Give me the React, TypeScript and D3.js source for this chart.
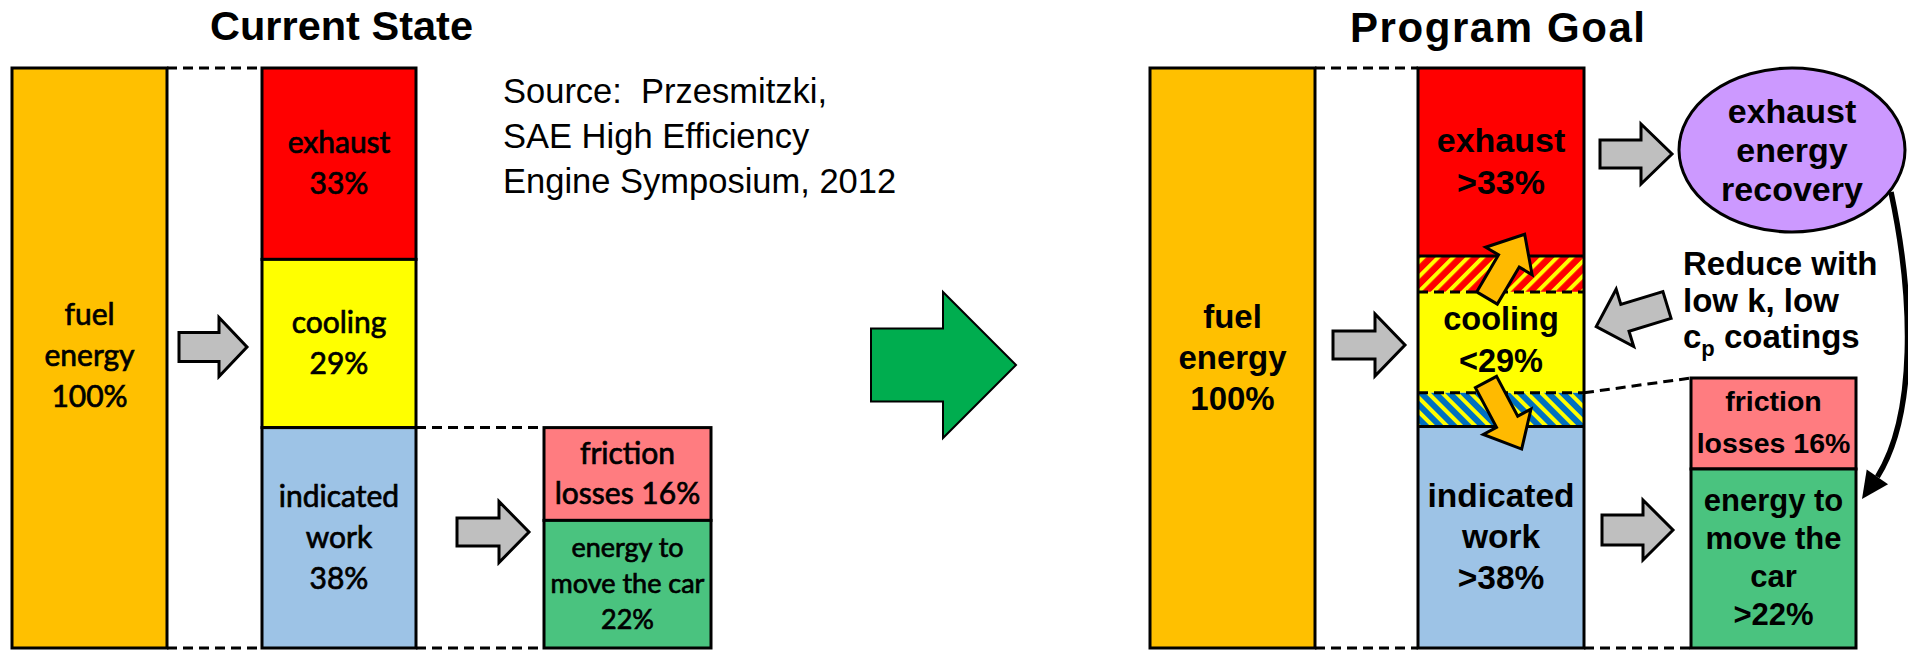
import React from "react";
import * as d3 from "d3";

const W = 1908;
const H = 653;

// ---------- data ----------
const stageTitles = ["Current State", "Program Goal"];
const sourceLines = ["Source:  Przesmitzki,", "SAE High Efficiency", "Engine Symposium, 2012"];

const fuelLabel = ["fuel", "energy", "100%"];
const fuelValue = 100;

const lossKeys = ["exhaust", "cooling", "indicated"];
const currentValues = [33, 29, 38];
const currentLabels = [["exhaust", "33%"], ["cooling", "29%"], ["indicated", "work", "38%"]];

const workValues = [16, 22];
const currentWorkLabels = [["friction", "losses 16%"], ["energy to", "move the car", "22%"]];

const goalBandKeys = ["exhaust", "exhaustGain", "cooling", "workGain", "indicated"];
const goalBandEdges = [0, 32.4, 38.6, 56, 61.8, 100];
const goalLabels = [["exhaust", ">33%"], ["cooling", "<29%"], ["indicated", "work", ">38%"]];
const goalWorkLabels = [["friction", "losses 16%"], ["energy to", "move the", "car", ">22%"]];
const goalFrictionShare = 0.337;
const recoveryLabel = ["exhaust", "energy", "recovery"];
const coatingLines = ["Reduce with", "low k, low"];

// ---------- style ----------
const C = {
  fuel: "#FFC000",
  exhaust: "#FF0000",
  cooling: "#FFFF00",
  indicated: "#9DC3E6",
  friction: "#FF7C80",
  car: "#4AC37F",
  gray: "#BFBFBF",
  green: "#00AD4F",
  purple: "#CC99FF",
  orange: "#FFBA00",
  hatchBlue: "#0070C0",
};
const SEG_FILL: Record<string, string> = {
  exhaust: C.exhaust,
  cooling: C.cooling,
  indicated: C.indicated,
  exhaustGain: "url(#hatchRY)",
  workGain: "url(#hatchBY)",
};
const CAL = "Lato, 'Open Sans', sans-serif";
const ARIAL = "'Liberation Sans', Arial, sans-serif";

const TOP = 68;
const BOT = 648;
const y = d3.scaleLinear().domain([0, fuelValue]).range([TOP, BOT]);

const L = { fuel: [12, 167], mid: [262, 416], box: [544, 711] };
const R = { fuel: [1150, 1315], mid: [1418, 1584], box: [1691, 1856], boxTop: 378 };

const arrowLine = d3.line();
function arrowPath(len: number, sh: number, hh: number, hl: number) {
  const pts: [number, number][] = [
    [0, -sh], [len - hl, -sh], [len - hl, -hh], [len, 0],
    [len - hl, hh], [len - hl, sh], [0, sh],
  ];
  return arrowLine(pts) + "Z";
}

function BlockArrow({ x, y: yy, angle = 0, len = 72, sh = 14, hh = 30, hl = 30, fill = C.gray, sw = 3 }: any) {
  return (
    <path
      d={arrowPath(len, sh, hh, hl)}
      transform={`translate(${x},${yy}) rotate(${angle})`}
      fill={fill}
      stroke="#000"
      strokeWidth={sw}
      strokeLinejoin="miter"
    />
  );
}

function Label({ cx, cy, lines, size, lh, family, weight = "normal", offset = 0.33, stroke }: any) {
  const off = size * offset;
  return (
    <text
      textAnchor="middle"
      fontFamily={family}
      fontSize={size}
      fontWeight={weight}
      fill="#000"
      stroke={stroke ? "#000" : undefined}
      strokeWidth={stroke || undefined}
    >
      {lines.map((l: string, i: number) => (
        <tspan key={i} x={cx} y={cy + (i - (lines.length - 1) / 2) * lh + off}>
          {l}
        </tspan>
      ))}
    </text>
  );
}

function Dashed({ x1, y1, x2, y2 }: any) {
  return <line x1={x1} y1={y1} x2={x2} y2={y2} stroke="#000" strokeWidth={3} strokeDasharray="10 6" />;
}

export default function App() {
  const ends = d3.cumsum(currentValues);
  const starts = ends.map((e, i) => e - currentValues[i]);
  const lastStart = starts[2];
  const yWork = d3.scaleLinear().domain([0, d3.sum(workValues)]).range([y(lastStart), BOT]);
  const yGoalBox = d3.scaleLinear().domain([0, 1]).range([R.boxTop, BOT]);

  const midL = (L.mid[0] + L.mid[1]) / 2;
  const midR = (R.mid[0] + R.mid[1]) / 2;
  const fuelLc = (L.fuel[0] + L.fuel[1]) / 2;
  const fuelRc = (R.fuel[0] + R.fuel[1]) / 2;
  const boxLc = (L.box[0] + L.box[1]) / 2;
  const boxRc = (R.box[0] + R.box[1]) / 2;

  const gb = goalBandKeys.map((k, i) => ({ key: k, y0: y(goalBandEdges[i]), y1: y(goalBandEdges[i + 1]) }));
  const gbMap: Record<string, { y0: number; y1: number }> = {};
  gb.forEach((b) => (gbMap[b.key] = b));

  const tip: [number, number] = [1862, 499];
  const u: [number, number] = [-0.57, 0.82];
  const hlen = 27;
  const base: [number, number] = [tip[0] - u[0] * hlen, tip[1] - u[1] * hlen];
  const n: [number, number] = [u[1], -u[0]];
  const hw = 13;
  const curve = d3.path();
  curve.moveTo(1891, 192);
  curve.bezierCurveTo(1914, 300, 1916, 415, base[0], base[1]);

  const calW = "normal";
  const calStroke = 0.7;

  return (
    <svg width={W} height={H} style={{ position: "absolute", left: 0, top: 0, background: "#fff" }}>
      <defs>
        <pattern id="hatchRY" patternUnits="userSpaceOnUse" width={10.5} height={10.5} patternTransform="rotate(45)">
          <rect width={10.5} height={10.5} fill={C.exhaust} />
          <rect width={4} height={10.5} fill={C.cooling} />
        </pattern>
        <pattern id="hatchBY" patternUnits="userSpaceOnUse" width={10} height={10} patternTransform="rotate(-45)">
          <rect width={10} height={10} fill={C.hatchBlue} />
          <rect width={4} height={10} fill={C.cooling} />
        </pattern>
      </defs>
      <rect width={W} height={H} fill="#fff" />

      {/* titles */}
      <text x={210} y={40} fontFamily={ARIAL} fontWeight="bold" fontSize={41.5} textLength={263} lengthAdjust="spacingAndGlyphs">
        {stageTitles[0]}
      </text>
      <text x={1350} y={42} fontFamily={ARIAL} fontWeight="bold" fontSize={42} textLength={295} lengthAdjust="spacing">
        {stageTitles[1]}
      </text>

      {/* ================= CURRENT STATE ================= */}
      <Dashed x1={L.fuel[1]} y1={TOP} x2={L.mid[0]} y2={TOP} />
      <Dashed x1={L.fuel[1]} y1={BOT} x2={L.mid[0]} y2={BOT} />
      <Dashed x1={L.mid[1]} y1={y(lastStart)} x2={L.box[0]} y2={y(lastStart)} />
      <Dashed x1={L.mid[1]} y1={BOT} x2={L.box[0]} y2={BOT} />

      <rect x={L.fuel[0]} y={y(0)} width={L.fuel[1] - L.fuel[0]} height={y(fuelValue) - y(0)} fill={C.fuel} stroke="#000" strokeWidth={3} />
      <Label cx={fuelLc} cy={(y(0) + y(fuelValue)) / 2 - 2} lines={fuelLabel} size={30} lh={41} family={CAL} weight={calW} stroke={calStroke} />

      {lossKeys.map((k, i) => (
        <g key={k}>
          <rect x={L.mid[0]} y={y(starts[i])} width={L.mid[1] - L.mid[0]} height={y(ends[i]) - y(starts[i])} fill={SEG_FILL[k]} stroke="#000" strokeWidth={3} />
          <Label cx={midL} cy={(y(starts[i]) + y(ends[i])) / 2} lines={currentLabels[i]} size={30} lh={41} family={CAL} weight={calW} stroke={calStroke} />
        </g>
      ))}

      {workValues.map((v, i) => {
        const s = d3.sum(workValues.slice(0, i));
        const y0 = yWork(s);
        const y1 = yWork(s + v);
        return (
          <g key={i}>
            <rect x={L.box[0]} y={y0} width={L.box[1] - L.box[0]} height={y1 - y0} fill={i === 0 ? C.friction : C.car} stroke="#000" strokeWidth={3} />
            <Label cx={boxLc} cy={(y0 + y1) / 2} lines={currentWorkLabels[i]} size={i === 0 ? 30 : 27} lh={i === 0 ? 40 : 36} family={CAL} weight={calW} stroke={calStroke} />
          </g>
        );
      })}

      <BlockArrow x={179} y={347} len={68} sh={14.5} hh={29.5} hl={28} />
      <BlockArrow x={457} y={532} len={72} sh={14} hh={30.5} hl={30} />

      {/* source */}
      <text fontFamily={ARIAL} fontSize={34.5} fill="#000" style={{ whiteSpace: "pre" }}>
        {sourceLines.map((l, i) => (
          <tspan key={i} x={503} y={103 + i * 45}>{l}</tspan>
        ))}
      </text>

      {/* big green arrow */}
      <BlockArrow x={871} y={365} len={145} sh={36.5} hh={73} hl={73} fill={C.green} sw={2} />

      {/* ================= PROGRAM GOAL ================= */}
      <Dashed x1={R.fuel[1]} y1={TOP} x2={R.mid[0]} y2={TOP} />
      <Dashed x1={R.fuel[1]} y1={BOT} x2={R.mid[0]} y2={BOT} />
      <Dashed x1={R.mid[1]} y1={gbMap.workGain.y0} x2={R.box[0]} y2={R.boxTop} />
      <Dashed x1={R.mid[1]} y1={BOT} x2={R.box[0]} y2={BOT} />

      <rect x={R.fuel[0]} y={y(0)} width={R.fuel[1] - R.fuel[0]} height={y(fuelValue) - y(0)} fill={C.fuel} stroke="#000" strokeWidth={3} />
      <Label cx={fuelRc} cy={(y(0) + y(fuelValue)) / 2} lines={fuelLabel} size={33} lh={41} family={ARIAL} weight="bold" />

      {gb.map((b) => (
        <rect key={b.key} x={R.mid[0]} y={b.y0} width={R.mid[1] - R.mid[0]} height={b.y1 - b.y0} fill={SEG_FILL[b.key]} />
      ))}
      <rect x={R.mid[0]} y={TOP} width={R.mid[1] - R.mid[0]} height={BOT - TOP} fill="none" stroke="#000" strokeWidth={3} />
      <line x1={R.mid[0]} x2={R.mid[1]} y1={gbMap.exhaustGain.y0} y2={gbMap.exhaustGain.y0} stroke="#000" strokeWidth={3} />
      <line x1={R.mid[0]} x2={R.mid[1]} y1={gbMap.indicated.y0} y2={gbMap.indicated.y0} stroke="#000" strokeWidth={3} />
      <line x1={R.mid[0]} x2={R.mid[1]} y1={gbMap.cooling.y0} y2={gbMap.cooling.y0} stroke="#000" strokeWidth={3} strokeDasharray="10 6" />
      <line x1={R.mid[0]} x2={R.mid[1]} y1={gbMap.workGain.y0} y2={gbMap.workGain.y0} stroke="#000" strokeWidth={3} strokeDasharray="10 6" />

      <Label cx={midR} cy={(gbMap.exhaust.y0 + gbMap.exhaust.y1) / 2} lines={goalLabels[0]} size={34} lh={42} family={ARIAL} weight="bold" />
      <Label cx={midR} cy={(gbMap.cooling.y0 + gbMap.cooling.y1) / 2 - 2} lines={goalLabels[1]} size={32.5} lh={42} family={ARIAL} weight="bold" />
      <Label cx={midR} cy={(gbMap.indicated.y0 + gbMap.indicated.y1) / 2} lines={goalLabels[2]} size={33.5} lh={41} family={ARIAL} weight="bold" />

      {/* orange transfer arrows */}
      <BlockArrow x={1487} y={298} angle={-59.4} len={74} sh={12} hh={27} hl={31} fill={C.orange} />
      <BlockArrow x={1486} y={382} angle={62} len={76} sh={12} hh={27} hl={31} fill={C.orange} />

      {/* goal work box */}
      {[0, 1].map((i) => {
        const y0 = i === 0 ? yGoalBox(0) : yGoalBox(goalFrictionShare);
        const y1 = i === 0 ? yGoalBox(goalFrictionShare) : yGoalBox(1);
        return (
          <g key={i}>
            <rect x={R.box[0]} y={y0} width={R.box[1] - R.box[0]} height={y1 - y0} fill={i === 0 ? C.friction : C.car} stroke="#000" strokeWidth={3} />
            {i === 0 ? (
              <Label cx={boxRc} cy={(y0 + y1) / 2} lines={goalWorkLabels[0]} size={28.5} lh={42} family={ARIAL} weight="bold" offset={0.3} />
            ) : (
              <Label cx={boxRc} cy={(y0 + y1) / 2} lines={goalWorkLabels[1]} size={31} lh={38} family={ARIAL} weight="bold" offset={0.3} />
            )}
          </g>
        );
      })}

      <BlockArrow x={1333} y={345} len={72} sh={14} hh={31} hl={30} />
      <BlockArrow x={1600} y={154} len={72} sh={14} hh={30} hl={31} />
      <BlockArrow x={1602} y={530} len={71} sh={15} hh={30} hl={30} />
      <BlockArrow x={1667} y={305} angle={163} len={74} sh={14} hh={30} hl={30} />

      {/* recovery ellipse */}
      <ellipse cx={1792} cy={150} rx={113} ry={82} fill={C.purple} stroke="#000" strokeWidth={3} />
      <Label cx={1792} cy={161} lines={recoveryLabel} size={34} lh={39} family={ARIAL} weight="bold" offset={0.02} />

      {/* coatings note */}
      <text fontFamily={ARIAL} fontWeight="bold" fontSize={33} fill="#000">
        {coatingLines.map((l, i) => (
          <tspan key={i} x={1683} y={275 + i * 37}>{l}</tspan>
        ))}
        <tspan x={1683} y={348}>c</tspan>
        <tspan fontSize={22} dy={8}>p</tspan>
        <tspan dy={-8}>{" coatings"}</tspan>
      </text>

      {/* curved recovery arrow */}
      <path d={curve.toString()} fill="none" stroke="#000" strokeWidth={5.5} />
      <path
        d={`M${tip[0]},${tip[1]}L${base[0] + n[0] * hw},${base[1] + n[1] * hw}L${base[0] - n[0] * hw},${base[1] - n[1] * hw}Z`}
        fill="#000"
      />
    </svg>
  );
}
